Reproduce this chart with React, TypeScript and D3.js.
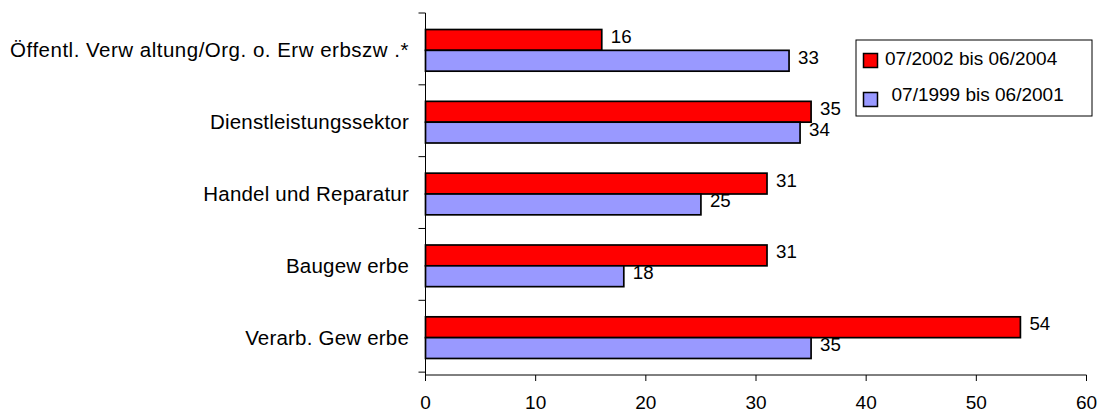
import * as d3 from "d3";

const W = 1101, H = 414;
const X0 = 425.5, X60 = 1086.5, YTOP = 13, YBOT = 375;

const categories = [
  "Öffentl. Verw altung/Org. o. Erw erbszw .*",
  "Dienstleistungssektor",
  "Handel und Reparatur",
  "Baugew erbe",
  "Verarb. Gew erbe",
];
const recent = [16, 35, 31, 31, 54];
const earlier = [33, 34, 25, 18, 35];
const seriesNames = ["07/2002 bis 06/2004", "07/1999 bis 06/2001"];
const colors = ["#FF0000", "#9999FF"];
const xTicks = [0, 10, 20, 30, 40, 50, 60];

const FONT = "'Liberation Sans', Arial, sans-serif";

export default function App() {
  const x = d3.scaleLinear([0, 60], [X0, X60]);
  const y = d3.scaleBand(categories, [YTOP, YBOT]).paddingInner(0.42).paddingOuter(0.23);
  const inner = d3.scaleBand([0, 1], [0, y.bandwidth()]);
  const series = [recent, earlier];
  const step = y.step();

  return (
    <svg width={W} height={H} style={{ position: "absolute", left: 0, top: 0, background: "#fff" }}>
      {/* Bars */}
      {series.map((vals, s) =>
        categories.map((c, i) => (
          <g key={`${s}-${i}`}>
            <rect x={x(0)} y={y(c)! + inner(s)!} width={x(vals[i]) - x(0)} height={inner.bandwidth()}
              fill={colors[s]} stroke="#000" strokeWidth={1.7} />
            <text x={x(vals[i]) + 9} y={y(c)! + inner(s)! + inner.bandwidth() / 2 + 3}
              fontSize={18.7} fontFamily={FONT} fill="#000">{vals[i]}</text>
          </g>
        ))
      )}

      {/* Y axis */}
      <line x1={X0} y1={YTOP} x2={X0} y2={YBOT} stroke="#000" strokeWidth={1} />
      {d3.range(categories.length + 1).map((k) => (
        <line key={k} x1={X0 - 7} y1={YTOP + k * step} x2={X0} y2={YTOP + k * step} stroke="#000" strokeWidth={1} />
      ))}
      {categories.map((c, i) => (
        <text key={c} x={409} y={y(c)! + y.bandwidth() / 2 + 7} textAnchor="end"
          fontSize={20.5} letterSpacing={i === 0 ? 0.5 : 0.2} fontFamily={FONT} fill="#000">{c}</text>
      ))}

      {/* X axis */}
      <line x1={X0} y1={YBOT} x2={X60} y2={YBOT} stroke="#000" strokeWidth={1} />
      {xTicks.map((t) => (
        <g key={t}>
          <line x1={x(t)} y1={YBOT} x2={x(t)} y2={YBOT + 6} stroke="#000" strokeWidth={1} />
          <text x={x(t)} y={YBOT + 34} textAnchor="middle" fontSize={19} fontFamily={FONT} fill="#000">{t}</text>
        </g>
      ))}

      {/* Legend */}
      <rect x={856} y={40} width={236} height={76} fill="#fff" stroke="#000" strokeWidth={1} />
      {seriesNames.map((n, s) => (
        <g key={n}>
          <rect x={863.5} y={53.5 + s * 39} width={14} height={14} fill={colors[s]} stroke="#000" strokeWidth={1.5} />
          <text x={s === 0 ? 885 : 891.5} y={64.5 + s * 36.5} fontSize={19} fontFamily={FONT} fill="#000">{n}</text>
        </g>
      ))}
    </svg>
  );
}
